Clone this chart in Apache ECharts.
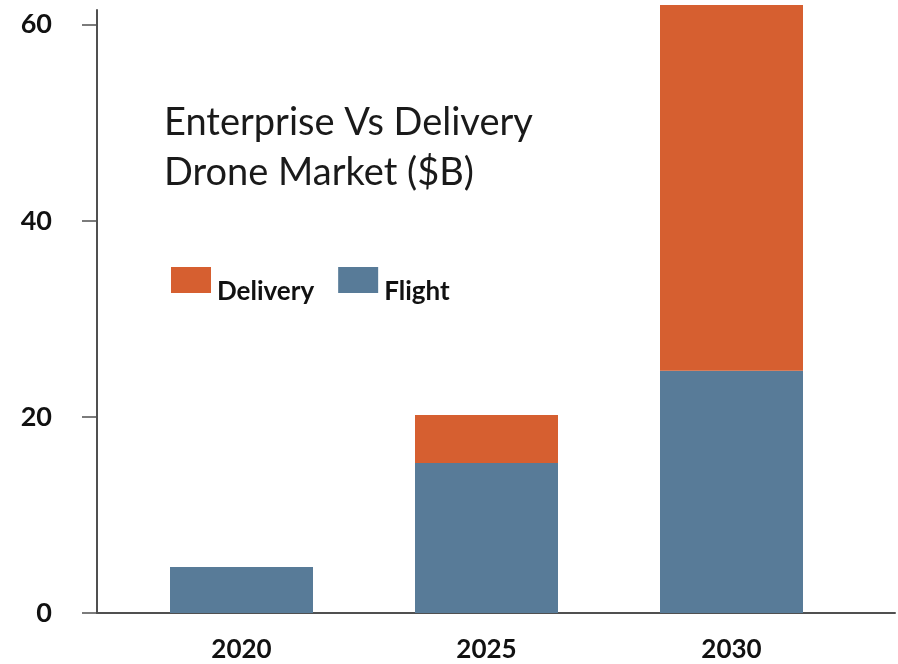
<!DOCTYPE html>
<html>
<head>
<meta charset="utf-8">
<script src="https://cdn.jsdelivr.net/npm/echarts@6/dist/echarts.min.js"></script>
<style>
html,body{margin:0;padding:0;background:#fff;}
#chart{width:898px;height:664px;}
</style>
</head>
<body>
<div id="chart"></div>
<script>
var years = ['2020', '2025', '2030'];
var flight = [4.7, 15.3, 24.7];
var delivery = [0, 4.9, 37.3];
var seriesNames = ['Delivery', 'Flight'];
var titleLines = ['Enterprise Vs Delivery', 'Drone Market ($B)'];
var yMax = 61.5;

var chart = echarts.init(document.getElementById('chart'), null, {renderer: 'canvas'});
var FONT = 'Lato, "Open Sans", sans-serif';
var AXIS = '#505050';
var option = {
  backgroundColor: '#ffffff',
  animation: false,
  title: {
    text: titleLines.join('\n'),
    left: 159, top: 93,
    textStyle: {fontFamily: FONT, fontWeight: 'normal', fontSize: 38, lineHeight: 50, color: '#1a1a1a'}
  },
  legend: {
    data: seriesNames,
    left: 166, top: 262,
    itemWidth: 40, itemHeight: 26, itemGap: 24,
    icon: 'rect',
    formatter: '{t|{name}}',
    textStyle: {
      fontFamily: FONT, fontWeight: 'bold', fontSize: 26, color: '#111',
      rich: {t: {fontFamily: FONT, fontWeight: 'bold', fontSize: 26, color: '#111', lineHeight: 50, verticalAlign: 'bottom', padding: [0, 0, 0, 1]}}
    }
  },
  grid: [
    {left: 97, right: 3, top: 10, bottom: 51, containLabel: false},
    {left: 119, right: 44, top: 10, bottom: 51, containLabel: false}
  ],
  xAxis: [
    {
      gridIndex: 0, type: 'value', min: 0, max: 1,
      splitLine: {show: false}, axisTick: {show: false}, axisLabel: {show: false},
      axisLine: {show: true, lineStyle: {color: AXIS, width: 2}}
    },
    {
      gridIndex: 1, type: 'category', data: years,
      axisLine: {show: false}, axisTick: {show: false},
      axisLabel: {margin: 24, fontFamily: FONT, fontWeight: 'bold', fontSize: 26, color: '#111'}
    }
  ],
  yAxis: [
    {
      gridIndex: 0, type: 'value', min: 0, max: yMax, interval: 20,
      splitLine: {show: false},
      axisLine: {show: true, lineStyle: {color: AXIS, width: 2}},
      axisTick: {show: true, length: 15, lineStyle: {color: AXIS, width: 1.5}},
      axisLabel: {margin: 45, fontFamily: FONT, fontWeight: 'bold', fontSize: 27, color: '#111'}
    },
    {
      gridIndex: 1, type: 'value', min: 0, max: yMax, show: false
    }
  ],
  series: [
    {
      name: 'Flight', type: 'bar', stack: 'total', barWidth: 143, clip: false,
      xAxisIndex: 1, yAxisIndex: 1,
      itemStyle: {color: '#587b98'},
      data: flight
    },
    {
      name: 'Delivery', type: 'bar', stack: 'total', barWidth: 143, clip: false,
      xAxisIndex: 1, yAxisIndex: 1,
      itemStyle: {color: '#d65f30'},
      data: delivery
    }
  ]
};
chart.setOption(option);
</script>
</body>
</html>
